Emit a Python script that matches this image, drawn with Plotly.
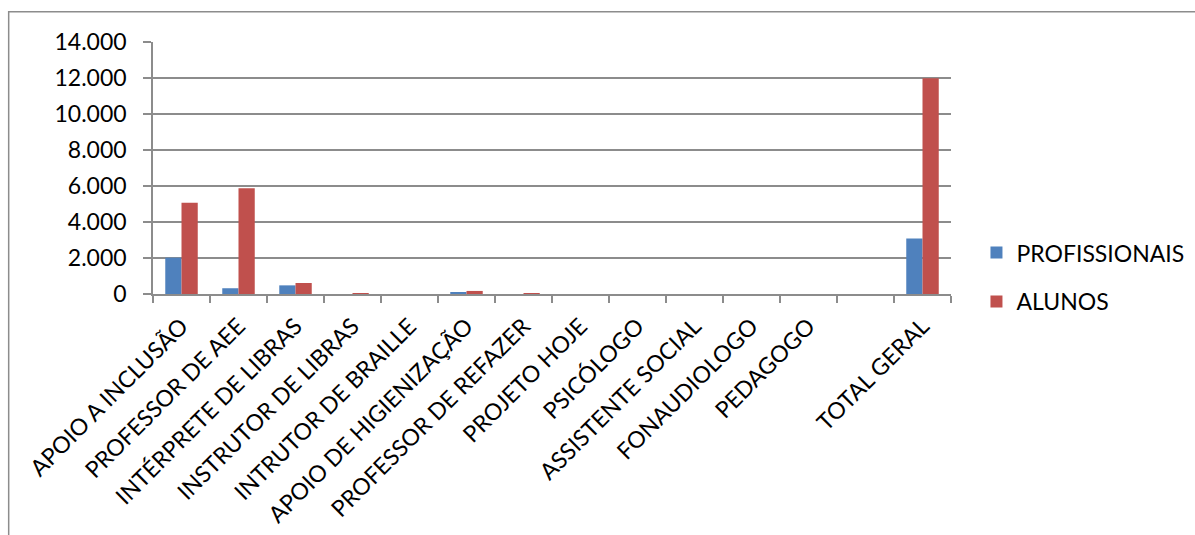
import plotly.graph_objects as go

# Categories (the blank slot keeps the gap before the total)
categorias = [
    "APOIO A INCLUSÃO", "PROFESSOR DE AEE", "INTÉRPRETE DE LIBRAS",
    "INSTRUTOR DE LIBRAS", "INTRUTOR DE BRAILLE", "APOIO DE HIGIENIZAÇÃO",
    "PROFESSOR DE REFAZER", "PROJETO HOJE", "PSICÓLOGO", "ASSISTENTE SOCIAL",
    "FONAUDIOLOGO", "PEDAGOGO", " ", "TOTAL GERAL",
]
profissionais = [2020, 320, 480, 0, 0, 110, 0, 0, 0, 0, 0, 0, None, 3090]
alunos = [5070, 5870, 610, 25, 0, 170, 20, 0, 0, 0, 0, 0, None, 11980]

y_ticks = [0, 2000, 4000, 6000, 8000, 10000, 12000, 14000]

FONT = "Lato"
GRID = "#8c8c8c"

fig = go.Figure()
fig.add_trace(go.Bar(x=categorias, y=profissionais, name="PROFISSIONAIS",
                     marker=dict(color="#4F81BD", line=dict(width=0)),
                     legendgroup="a"))
fig.add_trace(go.Bar(x=categorias, y=alunos, name="ALUNOS",
                     marker=dict(color="#C0504D", line=dict(width=0)),
                     legendgroup="b"))

L, R, T, B = 152.5, 243.5, 41.7, 241
W, H = 1195, 535
pw, ph = W - L - R, H - T - B

fig.update_layout(
    width=W, height=H,
    margin=dict(l=L, r=R, t=T, b=B, pad=0, autoexpand=False),
    paper_bgcolor="white", plot_bgcolor="white",
    separators=",.",
    barmode="group", bargap=0.43, bargroupgap=0,
    font=dict(family=FONT, size=23, color="black"),
    showlegend=True,
    legend=dict(x=(977 - L) / pw, y=(294 - 231) / ph, xanchor="left", yanchor="top",
                traceorder="grouped", tracegroupgap=16,
                font=dict(family=FONT, size=23, color="black"),
                bgcolor="rgba(0,0,0,0)"),
    xaxis=dict(type="category", tickangle=-45, tickson="boundaries",
               ticks="outside", ticklen=7, tickcolor=GRID, tickwidth=1.5,
               ticklabelstandoff=8, automargin=False,
               showline=True, linecolor=GRID, linewidth=1.5,
               showgrid=False, tickfont=dict(family=FONT, size=23, color="black")),
    yaxis=dict(range=[0, 14000], tickvals=y_ticks, tickformat=",d",
               ticks="outside", ticklen=8, tickcolor=GRID, tickwidth=1.5,
               ticklabelstandoff=12, automargin=False,
               showline=True, linecolor=GRID, linewidth=1.5,
               showgrid=True, gridcolor=GRID, gridwidth=1.5, zeroline=False,
               tickfont=dict(family=FONT, size=23, color="black")),
    shapes=[dict(type="rect", xref="paper", yref="paper",
                 x0=(8 - L) / pw, x1=(1260 - L) / pw,
                 y0=(294 - 600) / ph, y1=(294 - 11.5) / ph,
                 line=dict(color=GRID, width=1.5), fillcolor="rgba(0,0,0,0)",
                 layer="below")],
)

fig.write_html("out.html")
